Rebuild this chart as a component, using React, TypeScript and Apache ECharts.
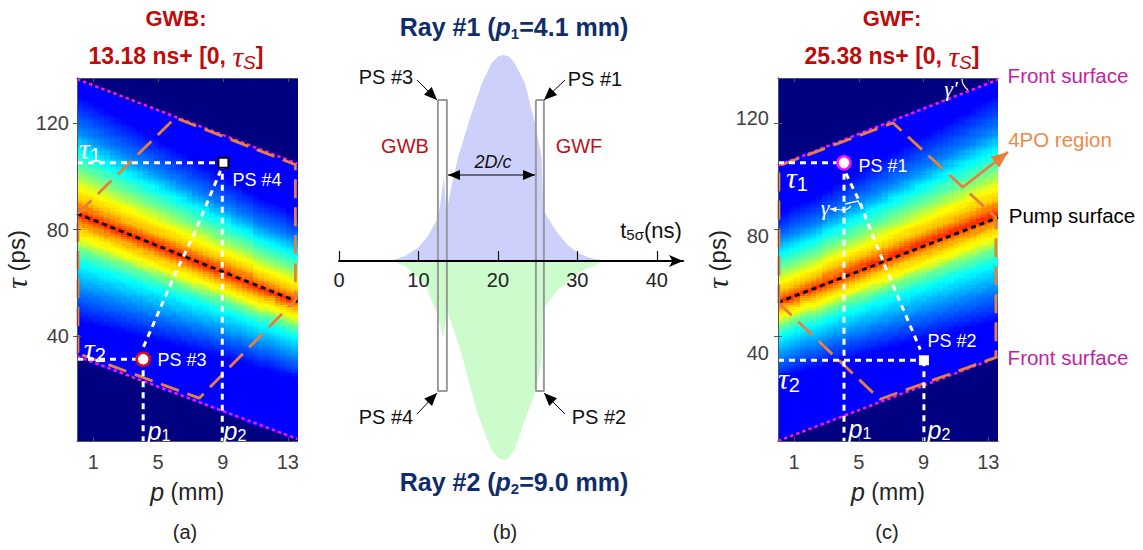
import React, { useEffect, useRef } from "react";
import * as echarts from "echarts";

const SANS = '"Liberation Sans", Arial, sans-serif';
const SERIF = '"Liberation Serif", serif';

// ---------- heat-map readings (GWB panel; the GWF panel reads as its mirror) ----------
const columnCount = 40;
const rowCount = 165;
const ridgeTau = [85.6, 84.8, 84.0, 83.2, 82.3, 81.5, 80.7, 79.9, 79.0, 78.2, 77.4, 76.6, 75.7, 74.9, 74.1, 73.3, 72.4, 71.6, 70.8, 70.0, 69.1, 68.3, 67.5, 66.7, 65.8, 65.0, 64.2, 63.4, 62.5, 61.7, 60.9, 60.1, 59.2, 58.4, 57.6, 56.8, 55.9, 55.1, 54.3, 53.5];
const upperFrontTau = [136.0, 135.2, 134.4, 133.6, 132.8, 132.1, 131.3, 130.5, 129.7, 128.9, 128.1, 127.3, 126.5, 125.7, 124.9, 124.1, 123.4, 122.6, 121.8, 121.0, 120.2, 119.4, 118.6, 117.8, 117.0, 116.2, 115.4, 114.7, 113.9, 113.1, 112.3, 111.5, 110.7, 109.9, 109.1, 108.3, 107.5, 106.7, 106.0, 105.2];
const lowerFrontTau = [32.2, 31.4, 30.6, 29.8, 29.0, 28.3, 27.5, 26.7, 25.9, 25.1, 24.3, 23.5, 22.7, 21.9, 21.1, 20.3, 19.6, 18.8, 18.0, 17.2, 16.4, 15.6, 14.8, 14.0, 13.2, 12.4, 11.6, 10.9, 10.1, 9.3, 8.5, 7.7, 6.9, 6.1, 5.3, 4.5, 3.7, 2.9, 2.2, 1.4];
// how much wider the band reads in each column than at the right-hand end
const bandWidth = [1.32, 1.31, 1.3, 1.29, 1.28, 1.27, 1.26, 1.25, 1.24, 1.23, 1.22, 1.21, 1.2, 1.19, 1.18, 1.17, 1.16, 1.15, 1.14, 1.13, 1.12, 1.11, 1.1, 1.09, 1.08, 1.07, 1.06, 1.05, 1.04, 1.03, 1.02, 1.01, 1.0, 1.0, 0.99, 0.99, 0.98, 0.98, 0.97, 0.97];
// colour value read outward from the ridge, one entry per 0.82 ps
const profileAbove = [0.83, 0.8, 0.77, 0.745, 0.715, 0.685, 0.67, 0.655, 0.64, 0.627, 0.604, 0.582, 0.558, 0.536, 0.514, 0.492, 0.475, 0.458, 0.44, 0.423, 0.406, 0.39, 0.372, 0.355, 0.338, 0.32, 0.304, 0.286, 0.268, 0.252, 0.241, 0.23, 0.22, 0.21, 0.2, 0.189, 0.179, 0.169, 0.159, 0.148, 0.138, 0.128, 0.125];
const profileBelow = [0.83, 0.797, 0.763, 0.73, 0.7, 0.672, 0.654, 0.635, 0.62, 0.587, 0.552, 0.516, 0.484, 0.463, 0.44, 0.418, 0.396, 0.376, 0.363, 0.349, 0.335, 0.322, 0.309, 0.295, 0.282, 0.269, 0.256, 0.243, 0.231, 0.219, 0.207, 0.195, 0.183, 0.171, 0.159, 0.147, 0.135, 0.125];

const jetStops = ["#000080", "#0000ff", "#007fff", "#00ffff", "#7fff7f", "#ffff00", "#ff7f00", "#ff0000", "#800000"];

// ---------- axis ranges and ticks ----------
const pRange = [0, 13.6];
const tauRange = [0.75, 136.8];
const pTicks = [1, 5, 9, 13];
const tauTicks = [40, 80, 120];
const gwfTauLabelRange = [10.17, 133.56];
const timeTicksMax = 43.3;
const ampRange = [-1.068, 1.068];

// ---------- GWB panel overlays [p, tau] ----------
const gwbPump = [[0, 86], [13.6, 53]];
const gwbFrontUpper = [[0, 136.4], [13.6, 104.7]];
const gwbFrontLower = [[0, 32.5], [13.6, 1.5]];
const gwb4PO = [[0.06, 86], [6.06, 121.9], [13.47, 104.3], [13.47, 53.5], [7.54, 16.8], [-0.12, 34], [0.06, 34], [0.06, 86]];
const gwbTau1 = [[0, 105], [9.0, 105]];
const gwbTau2 = [[0, 31.4], [4.08, 31.4]];
const gwbP1 = [[4.08, 31.4], [4.08, 0.75]];
const gwbP2 = [[8.96, 105], [8.96, 0.75]];
const gwbRay = [[4.1, 36], [6.1, 64], [7.2, 78], [8.85, 102]];
const gwbPS3 = [[4.08, 31.4]];
const gwbPS4 = [[9.03, 105]];

// ---------- GWF panel overlays [p, tau] ----------
const gwfPump = [[0, 52.7], [13.6, 84.5]];
const gwfFrontUpper = [[0, 104], [13.6, 136.2]];
const gwfFrontLower = [[0, 0.75], [13.6, 32.2]];
const gwf4PO = [[0.06, 52.3], [0.06, 103.9], [7.1, 120], [13.47, 84.5], [13.47, 32.1], [6.3, 16.4], [0.06, 52.3]];
const gwfTau1 = [[0, 105], [4.08, 105]];
const gwfTau2 = [[0, 31], [9.02, 31]];
const gwfP1 = [[4.08, 105], [4.08, 0.75]];
const gwfP2 = [[9.02, 31], [9.02, 0.75]];
const gwfRay = [[4.2, 101], [5, 91], [6.7, 65], [8.8, 35]];
const gwfPS1 = [[4.08, 105]];
const gwfPS2 = [[9.02, 31]];

// ---------- middle panel ----------
const timeTicks = [0, 10, 20, 30, 40];
const ray1Pulse = [[5.8, 0], [7.0, 0.007], [8.3, 0.024], [9.9, 0.063], [11.2, 0.121], [12.5, 0.214], [13.2, 0.403], [13.5, 0.233], [14.2, 0.369], [15.0, 0.505], [16.5, 0.694], [18.0, 0.864], [19.2, 0.961], [20.0, 0.993], [20.75, 1], [21.4, 0.993], [22.1, 0.961], [23.4, 0.864], [24.65, 0.67], [25.5, 0.505], [25.7, 0.248], [27.5, 0.136], [28.8, 0.078], [30.1, 0.039], [31.6, 0.015], [33.8, 0]];
const ray2Pulse = [[6.6, 0], [8.3, -0.024], [9.5, -0.068], [10.8, -0.107], [12.5, -0.272], [13.1, -0.374], [13.6, -0.238], [15.4, -0.447], [17.4, -0.738], [19.2, -0.917], [20.0, -0.955], [20.75, -0.966], [21.4, -0.955], [22.1, -0.917], [23.4, -0.772], [24.8, -0.626], [25.5, -0.481], [25.65, -0.238], [27.5, -0.141], [30.1, -0.058], [33.1, -0.005]];
const slitBack = [[12.45, 0.782], [13.58, 0.782], [13.58, -0.631], [12.45, -0.631], [12.45, 0.782]];
const slitFront = [[24.78, 0.782], [25.79, 0.782], [25.79, -0.631], [24.78, -0.631], [24.78, 0.782]];

const panelCategories = Array.from({ length: columnCount }, (_, i) => String(i));
const rowCategories = Array.from({ length: rowCount }, (_, j) => String(j));

function buildCells(ridge: number[], upper: number[], lower: number[], width: number[]) {
  const rowStep = (tauRange[1] - tauRange[0]) / rowCount;
  const cells: number[][] = [];
  for (let i = 0; i < columnCount; i++) {
    for (let j = 0; j < rowCount; j++) {
      const tau = tauRange[0] + (j + 0.5) * rowStep;
      let v = 0;
      if (tau <= upper[i] && tau >= lower[i]) {
        const d = tau - ridge[i];
        const table = d >= 0 ? profileAbove : profileBelow;
        const k = Math.round(Math.abs(d) / (rowStep * width[i]));
        v = table[Math.min(k, table.length - 1)];
      }
      cells.push([i, j, v]);
    }
  }
  return cells;
}
const rev = (a: number[]) => a.slice().reverse();

// Cells snap to whole pixels so no seam of the page shows between them.
function renderCell(_: any, api: any) {
  const c = api.coord([api.value(0), api.value(1)]);
  const s = api.size([1, 1]);
  const x0 = Math.floor(c[0] - s[0] / 2);
  const y0 = Math.floor(c[1] - s[1] / 2);
  const x1 = Math.ceil(c[0] + s[0] / 2);
  const y1 = Math.ceil(c[1] + s[1] / 2);
  return {
    type: "rect",
    shape: { x: x0, y: y0, width: x1 - x0, height: y1 - y0 },
    style: { fill: api.visual("color") },
  };
}

const heat = (axis: number, data: number[][]) => ({
  type: "custom",
  xAxisIndex: axis,
  yAxisIndex: axis,
  coordinateSystem: "cartesian2d",
  data,
  renderItem: renderCell,
  encode: { x: 0, y: 1 },
  silent: true,
  z: 1,
  progressive: 0,
});

const line = (x: number, y: number, data: number[][], color: string, width: number, dash: any, z = 5) => ({
  type: "line",
  xAxisIndex: x,
  yAxisIndex: y,
  data,
  symbol: "none",
  clip: false,
  silent: true,
  z,
  lineStyle: { color, width, type: dash, cap: "butt" },
});

const marker = (x: number, y: number, data: number[][], symbol: string, size: number, fill: string, border: string, bw: number) => ({
  type: "scatter",
  xAxisIndex: x,
  yAxisIndex: y,
  data,
  symbol,
  symbolSize: size,
  clip: false,
  silent: true,
  z: 7,
  itemStyle: { color: fill, borderColor: border, borderWidth: bw, opacity: 1 },
});

const ORANGE = "#e8803c";
const MAGENTA = "#ff14e6";
const AXIS = "#4d5560";
const TICKTXT = "#404040";

function frameAxes(gridIndex: number, withLabels: boolean) {
  const xBottom = {
    type: "value", gridIndex, min: pRange[0], max: pRange[1], position: "bottom", z: 6,
    splitLine: { show: false },
    axisLine: { show: true, lineStyle: { color: AXIS, width: 1 } },
    axisTick: { show: true, inside: true, length: 4, customValues: pTicks, lineStyle: { color: AXIS } },
    axisLabel: { show: true, customValues: pTicks, margin: 11, fontSize: 20, color: TICKTXT, fontFamily: SANS },
    name: "{i|p} (mm)", nameLocation: "middle", nameGap: 38,
    nameTextStyle: { fontSize: 23, color: "#222", fontFamily: SANS, rich: { i: { fontStyle: "italic", fontSize: 25, fontFamily: SANS, color: "#222" } } },
  };
  const xTop = {
    type: "value", gridIndex, min: pRange[0], max: pRange[1], position: "top", z: 6,
    splitLine: { show: false },
    axisLine: { show: true, lineStyle: { color: AXIS, width: 1 } },
    axisTick: { show: true, inside: true, length: 4, customValues: pTicks, lineStyle: { color: AXIS } },
    axisLabel: { show: false },
  };
  const yLeft = {
    type: "value", gridIndex, min: tauRange[0], max: tauRange[1], position: "left", z: 6,
    splitLine: { show: false },
    axisLine: { show: true, lineStyle: { color: AXIS, width: 1 } },
    axisTick: { show: true, inside: true, length: 4, customValues: tauTicks, lineStyle: { color: AXIS } },
    axisLabel: withLabels ? { show: true, customValues: tauTicks, margin: 8, fontSize: 20, color: TICKTXT, fontFamily: SANS } : { show: false },
    name: "{i|τ} (ps)", nameLocation: "middle", nameGap: withLabels ? 40 : 46, nameRotate: 90,
    nameTextStyle: { fontSize: 24, color: "#222", fontFamily: SANS, rich: { i: { fontStyle: "italic", fontSize: 30, fontFamily: SERIF, color: "#222" } } },
  };
  const yRight = {
    type: "value", gridIndex, min: tauRange[0], max: tauRange[1], position: "right", z: 6,
    splitLine: { show: false },
    axisLine: { show: true, lineStyle: { color: AXIS, width: 1 } },
    axisTick: { show: true, inside: true, length: 4, customValues: tauTicks, lineStyle: { color: AXIS } },
    axisLabel: { show: false },
  };
  return { xBottom, xTop, yLeft, yRight };
}

const catAxis = (gridIndex: number, data: string[]) => ({
  type: "category", gridIndex, data, show: false, boundaryGap: true,
});

function txt(x: number, y: number, text: string, font: string, fill: string, rich?: any) {
  return {
    type: "text", z: 20, silent: true,
    style: { x, y, text, font, fill, align: "center", verticalAlign: "middle", rich },
  };
}
function arrow(x1: number, y1: number, x2: number, y2: number, color: string, width: number, head: number, both = false) {
  const out: any[] = [];
  const a = Math.atan2(y2 - y1, x2 - x1);
  const hd = (px: number, py: number, ang: number) => ({
    type: "polygon", z: 19, silent: true,
    shape: {
      points: [
        [px, py],
        [px - head * Math.cos(ang - 0.4), py - head * Math.sin(ang - 0.4)],
        [px - head * Math.cos(ang + 0.4), py - head * Math.sin(ang + 0.4)],
      ],
    },
    style: { fill: color },
  });
  out.push({ type: "line", z: 19, silent: true, shape: { x1, y1, x2, y2 }, style: { stroke: color, lineWidth: width } });
  out.push(hd(x2, y2, a));
  if (both) out.push(hd(x1, y1, a + Math.PI));
  return out;
}

const RED = "#bf0a0a";
const NAVY = "#0f2d6b";

function titleRich() {
  return {
    b: { font: `bold 23px ${SANS}`, fill: RED },
    t: { font: `italic 30px ${SERIF}`, fill: RED },
    s: { font: `italic 19px ${SANS}`, fill: RED, padding: [12, 0, 0, 0] },
  };
}
function rayRich() {
  return {
    b: { font: `bold 25px ${SANS}`, fill: NAVY },
    i: { font: `italic bold 25px ${SANS}`, fill: NAVY },
    s: { font: `bold 15px ${SANS}`, fill: NAVY, padding: [12, 0, 0, 0] },
  };
}
function tauLabel(x: number, y: number, n: string) {
  return txt(x, y, `{t|τ}{s|${n}}`, `24px ${SERIF}`, "#fff", {
    t: { font: `italic 30px ${SERIF}`, fill: "#fff" },
    s: { font: `20px ${SANS}`, fill: "#fff", padding: [14, 0, 0, 0] },
  });
}
function pLabel(x: number, y: number, n: string) {
  return txt(x, y, `{t|p}{s|${n}}`, `22px ${SANS}`, "#fff", {
    t: { font: `italic 25px ${SANS}`, fill: "#fff" },
    s: { font: `16px ${SANS}`, fill: "#fff", padding: [8, 0, 0, 0] },
  });
}

function buildOption() {
  const L = frameAxes(1, true);
  const R = frameAxes(4, false);
  const panelH = 363;
  const grids = [
    { left: 77, top: 78, width: 220.5, height: panelH },
    { left: 77, top: 78, width: 220.5, height: panelH },
    { left: 339, top: 41, width: 344, height: 440 },
    { left: 778, top: 78, width: 220, height: panelH },
    { left: 778, top: 78, width: 220, height: panelH },
    { left: 778, top: 78, width: 220, height: panelH },
  ];
  const xAxis = [
    catAxis(0, panelCategories),
    L.xBottom,
    L.xTop,
    {
      type: "value", gridIndex: 2, min: 0, max: timeTicksMax, interval: 10, z: 6, position: "bottom", offset: -220,
      splitLine: { show: false },
      axisLine: { show: true, onZero: false, symbol: ["none", "arrow"], symbolSize: [9, 14], lineStyle: { color: "#000", width: 2 } },
      axisTick: { show: true, inside: true, length: 10, customValues: timeTicks, lineStyle: { color: "#111", width: 1.2 } },
      axisLabel: { show: true, customValues: timeTicks, margin: 9, fontSize: 20, color: "#222", fontFamily: SANS },
    },
    catAxis(3, panelCategories),
    R.xBottom,
    R.xTop,
    { type: "value", gridIndex: 5, min: 0, max: 1, show: false },
  ];
  const yAxis = [
    catAxis(0, rowCategories),
    L.yLeft,
    L.yRight,
    { type: "value", gridIndex: 2, min: ampRange[0], max: ampRange[1], show: false },
    catAxis(3, rowCategories),
    R.yLeft,
    R.yRight,
    {
      type: "value", gridIndex: 5, min: gwfTauLabelRange[0], max: gwfTauLabelRange[1], position: "left",
      splitLine: { show: false },
      axisLine: { show: false }, axisTick: { show: false },
      axisLabel: { show: true, customValues: tauTicks, margin: 9, fontSize: 20, color: TICKTXT, fontFamily: SANS },
    },
  ];

  const dashOrange = [19, 9];
  const dotWhite = [6, 5];
  const dotMag = [3.5, 3];
  const dotBlack = [5, 4];
  const WW = 3;
  const OW = 2.8;

  const series: any[] = [
    heat(0, buildCells(ridgeTau, upperFrontTau, lowerFrontTau, bandWidth)),
    heat(4, buildCells(rev(ridgeTau), rev(upperFrontTau), rev(lowerFrontTau), rev(bandWidth))),

    line(1, 1, gwbPump, "#000", 2.8, dotBlack),
    line(1, 1, gwbFrontUpper, MAGENTA, 2.5, dotMag),
    line(1, 1, gwbFrontLower, MAGENTA, 2.5, dotMag),
    line(1, 1, gwb4PO, ORANGE, OW, dashOrange),
    line(1, 1, gwbTau1, "#fff", WW, dotWhite),
    line(1, 1, gwbTau2, "#fff", WW, dotWhite),
    line(1, 1, gwbP1, "#fff", WW, dotWhite),
    line(1, 1, gwbP2, "#fff", WW, dotWhite),
    line(1, 1, gwbRay, "#fff", WW, dotWhite),
    marker(1, 1, gwbPS3, "circle", 13, "#fff", "#d8101c", 2.5),
    marker(1, 1, gwbPS4, "rect", 10, "#fff", "#000", 2),

    line(5, 5, gwfPump, "#000", 2.8, dotBlack),
    line(5, 5, gwfFrontUpper, MAGENTA, 2.5, dotMag),
    line(5, 5, gwfFrontLower, MAGENTA, 2.5, dotMag),
    line(5, 5, gwf4PO, ORANGE, OW, dashOrange),
    line(5, 5, gwfTau1, "#fff", WW, dotWhite),
    line(5, 5, gwfTau2, "#fff", WW, dotWhite),
    line(5, 5, gwfP1, "#fff", WW, dotWhite),
    line(5, 5, gwfP2, "#fff", WW, dotWhite),
    line(5, 5, gwfRay, "#fff", WW, dotWhite),
    marker(5, 5, gwfPS1, "circle", 13, "#fff", "#ff14e6", 2.5),
    marker(5, 5, gwfPS2, "rect", 10, "#fff", "#fff", 0),

    { ...line(3, 3, ray1Pulse, "#ccd0fb", 0, "solid", 2), areaStyle: { color: "#ccd0fb", opacity: 1 } },
    { ...line(3, 3, ray2Pulse, "#ccfccc", 0, "solid", 2), areaStyle: { color: "#ccfccc", opacity: 1 } },
    line(3, 3, slitBack, "#9a9a9a", 2, "solid", 4),
    line(3, 3, slitFront, "#9a9a9a", 2, "solid", 4),
  ];

  const graphic: any[] = [
    txt(176, 18, "GWB:", `bold 22px ${SANS}`, RED),
    txt(176, 56, "{b|13.18 ns+ [0, }{t|τ}{s|S}{b|]}", `bold 23px ${SANS}`, RED, titleRich()),
    txt(892, 18, "GWF:", `bold 22px ${SANS}`, RED),
    txt(892, 56, "{b|25.38 ns+ [0, }{t|τ}{s|S}{b|]}", `bold 23px ${SANS}`, RED, titleRich()),
    txt(514, 27, "{b|Ray #1 (}{i|p}{s|1}{b|=4.1 mm)}", `bold 25px ${SANS}`, NAVY, rayRich()),
    txt(514, 482, "{b|Ray #2 (}{i|p}{s|2}{b|=9.0 mm)}", `bold 25px ${SANS}`, NAVY, rayRich()),

    tauLabel(90, 148, "1"),
    tauLabel(95, 348, "2"),
    pLabel(159, 431, "1"),
    pLabel(235, 431, "2"),
    txt(257, 180, "PS #4", `18px ${SANS}`, "#fff"),
    txt(182, 360, "PS #3", `18px ${SANS}`, "#fff"),

    tauLabel(797, 177, "1"),
    tauLabel(789, 378, "2"),
    pLabel(860, 429, "1"),
    pLabel(939, 430, "2"),
    txt(883, 166, "PS #1", `18px ${SANS}`, "#fff"),
    txt(952, 341, "PS #2", `18px ${SANS}`, "#fff"),
    txt(951, 88, "γ'", `italic 22px ${SERIF}`, "#fff"),
    txt(825, 207, "γ", `italic 22px ${SERIF}`, "#fff"),
    { type: "polyline", z: 19, silent: true, shape: { points: [[845, 204], [858, 201], [860, 205]] }, style: { stroke: "#fff", lineWidth: 1.5, fill: "none" } },
    { type: "bezierCurve", z: 19, silent: true, shape: { x1: 962, y1: 79, cpx1: 962, cpy1: 85, x2: 968, y2: 90 }, style: { stroke: "#fff", lineWidth: 1.2, fill: "none" } },
    { type: "bezierCurve", z: 19, silent: true, shape: { x1: 842, y1: 210, cpx1: 846, cpy1: 211, x2: 851, y2: 206 }, style: { stroke: "#fff", lineWidth: 1.2, fill: "none" } },
    ...arrow(843, 210, 830, 209, "#fff", 1.2, 7),

    txt(1068, 75, "Front surface", `20.5px ${SANS}`, "#c41fa3"),
    txt(1068, 357, "Front surface", `20.5px ${SANS}`, "#c41fa3"),
    txt(1060, 139, "4PO region", `20.5px ${SANS}`, "#ed8a4a"),
    txt(1072, 215, "Pump surface", `20.5px ${SANS}`, "#000"),
    ...arrow(963, 187, 1008, 152, ORANGE, 2.8, 18),

    txt(386, 77, "PS #3", `20px ${SANS}`, "#111"),
    txt(595, 79, "PS #1", `20px ${SANS}`, "#111"),
    txt(386, 417, "PS #4", `20px ${SANS}`, "#111"),
    txt(599, 417, "PS #2", `20px ${SANS}`, "#111"),
    txt(405, 146, "GWB", `20px ${SANS}`, "#c0101a"),
    txt(579, 146, "GWF", `20px ${SANS}`, "#c0101a"),
    txt(493, 162, "2D/c", `italic 18px ${SANS}`, "#111"),
    txt(651, 230, "{t|t}{s|5σ}{t|(ns)}", `22px ${SANS}`, "#111", {
      t: { font: `22px ${SANS}`, fill: "#111" },
      s: { font: `15px ${SANS}`, fill: "#111", padding: [8, 0, 0, 0] },
    }),
    ...arrow(417, 80, 437, 100, "#000", 1, 14),
    ...arrow(565, 80, 544, 100, "#000", 1, 14),
    ...arrow(417, 414, 437, 393, "#000", 1, 14),
    ...arrow(565, 414, 544, 393, "#000", 1, 14),
    ...arrow(448, 175, 535, 175, "#000", 1.2, 13, true),

    txt(185, 532, "(a)", `20px ${SANS}`, "#222"),
    txt(505, 532, "(b)", `20px ${SANS}`, "#222"),
    txt(887, 532, "(c)", `20px ${SANS}`, "#222"),
  ];

  return {
    animation: false,
    backgroundColor: "#fff",
    textStyle: { fontFamily: SANS },
    grid: grids,
    xAxis,
    yAxis,
    visualMap: { type: "continuous", show: false, min: 0, max: 1, seriesIndex: [0, 1], dimension: 2, inRange: { color: jetStops } },
    series,
    graphic,
  };
}

export default function App() {
  const ref = useRef<HTMLDivElement>(null);
  useEffect(() => {
    const chart = echarts.init(ref.current!, null, { renderer: "svg" });
    chart.setOption(buildOption() as any);
    return () => chart.dispose();
  }, []);
  return <div ref={ref} style={{ position: "absolute", left: 0, top: 0, width: 1143, height: 550 }} />;
}
